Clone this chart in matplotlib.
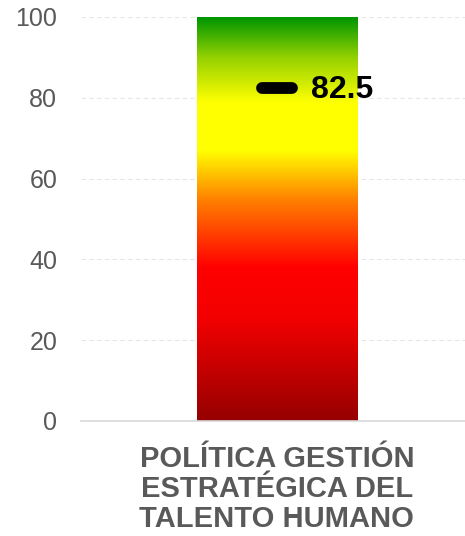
import numpy as np
import matplotlib.pyplot as plt
from matplotlib.colors import LinearSegmentedColormap

plt.rcParams['font.family'] = ['Liberation Sans', 'DejaVu Sans']

categories = ['POLÍTICA GESTIÓN\nESTRATÉGICA DEL\nTALENTO HUMANO']
values = [82.5]
scale_max = 100
y_ticks = [0, 20, 40, 60, 80, 100]

# gradient stops (fraction of the scale, colour)
grad_stops = [(0.00, '#960000'), (0.25, '#f20000'), (0.38, '#ff0000'),
              (0.55, '#ff8200'), (0.67, '#ffff00'), (0.79, '#ffff00'),
              (0.90, '#96d200'), (1.00, '#009600')]
cmap = LinearSegmentedColormap.from_list('gauge', grad_stops)

fig = plt.figure(figsize=(4.65, 5.36), dpi=100)
ax = fig.add_axes([0.174, 0.2146, 0.843, 0.7537])

bar_w = 0.41
x = np.arange(len(categories))
grad = np.linspace(0, 1, 256).reshape(-1, 1)
for xi in x:
    ax.imshow(grad, cmap=cmap, aspect='auto', origin='lower',
              extent=[xi - bar_w / 2, xi + bar_w / 2, 0, scale_max], zorder=2)

# value marker
for xi, v in zip(x, values):
    ax.plot([xi - 0.038, xi + 0.038], [v, v], color='black', lw=8.5,
            solid_capstyle='round', zorder=3)
    ax.annotate(f'{v:g}', (xi + 0.087, v), xytext=(0, -2),
                textcoords='offset points', fontsize=23, fontweight='bold',
                va='center', ha='left', zorder=4)

ax.set_xlim(-0.5, 0.5)
ax.set_ylim(0, scale_max)
ax.set_yticks(y_ticks)
ax.set_xticks(x)
ax.set_xticklabels(categories, fontsize=21, fontweight='bold', color='#595959',
                   linespacing=1.1)
ax.tick_params(axis='y', length=0, labelsize=18, labelcolor='#595959', pad=17)
ax.tick_params(axis='x', length=0, pad=17)
ax.grid(axis='y', color='#e6e6e6', linestyle=(0, (4, 3)), lw=0.8, zorder=0)
for s in ['top', 'right', 'left']:
    ax.spines[s].set_visible(False)
ax.spines['bottom'].set_color('#d9d9d9')
ax.spines['bottom'].set_linewidth(1.2)

fig.savefig('out.png', dpi=100)
